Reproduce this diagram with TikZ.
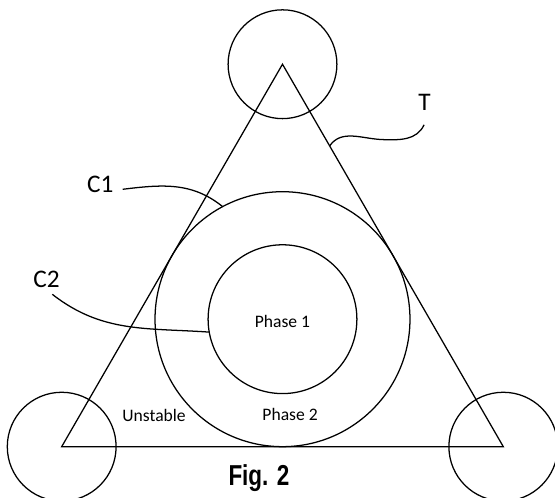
\documentclass[tikz,border=0pt]{standalone}
\usepackage{fontspec}
\setmainfont{Carlito}
\newfontfamily\figfont[FakeStretch=0.78]{Liberation Sans}
\usepackage{tikz}
\usetikzlibrary{calc}

\begin{document}
\begin{tikzpicture}[scale=1.0,
    line/.style={black, line width=0.9pt},
    tag/.style={font=\fontsize{18}{20}\selectfont},
    region/.style={font=\fontsize{12.5}{14}\selectfont}]

    \useasboundingbox (-7.0625,-4.47) rectangle (6.8125,7.98);
    \clip (-7.0625,-4.47) rectangle (6.8125,7.98);

    \coordinate (O) at (0,0);

    %% Vertices
    \coordinate (A) at (90:6.374);
    \coordinate (B) at (210:6.374);
    \coordinate (C) at (330:6.374);

    %% --- Triangle and circles ---
    \draw[line] (A) -- (B) -- (C) -- cycle;
    \draw[line] (O) circle (3.187);
    \draw[line] (O) circle (1.86);

    \draw[line] (A) circle (1.36);
    \draw[line] (B) circle (1.36);
    \draw[line] (C) circle (1.36);

    %% Regions
    \node[region] (ph1) at (0,-0.05) {Phase 1};
    \node[region] (ph2) at (0.19,-2.38) {Phase 2};
    \node[region] (unst) at (-3.21,-2.40) {Unstable};

    %% Labels
    \node[tag] (lT) at (3.55,5.42) {T};
    \node[tag] (lC1) at (-4.555,3.36) {C1};
    \node[tag] (lC2) at (-5.9,1.005) {C2};

    %% Leaders
    \coordinate (tS) at ($(A)!0.2135!(C)$);
    \coordinate (tM) at (2.5,4.49);
    \coordinate (tE) at (3.54,4.86);
    \draw[line] (tS) to[out=55, in=178] (tM) to[out=-2, in=-115] (tE);

    \coordinate (c1S) at (-3.995,3.2475);
    \coordinate (c1E) at (118:3.187);
    \draw[line] (c1S) to[out=7, in=141] (c1E);

    \coordinate (c2S) at (-5.755,0.6225);
    \coordinate (c2E) at (190:1.86);
    \draw[line] (c2S) to[out=-38, in=176] (c2E);

    %% Caption
    \node[anchor=base, font=\figfont\bfseries\fontsize{20.5}{24}\selectfont] (cap) at (-0.59,-4.17) {Fig. 2};

\end{tikzpicture}
\end{document}
